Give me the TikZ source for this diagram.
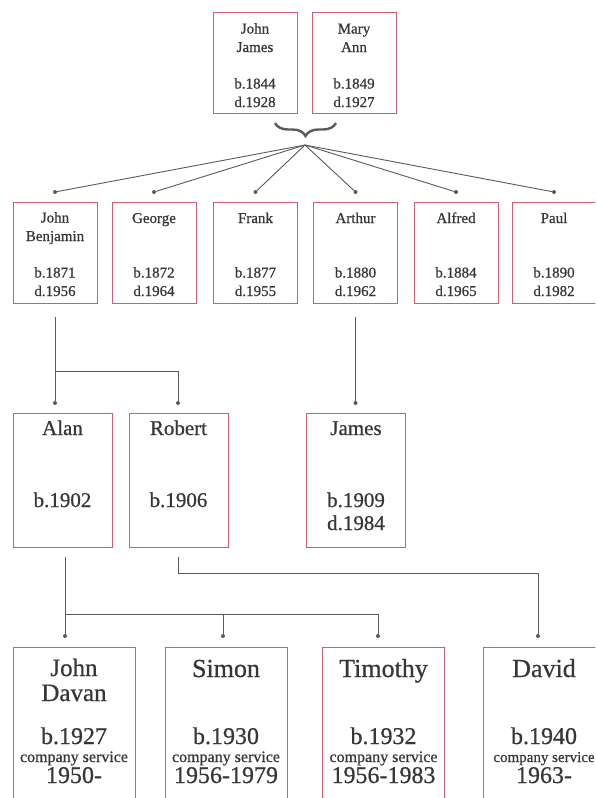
\documentclass[tikz,border=0pt]{standalone}
\usepackage{fontspec}
\setmainfont{Liberation Serif}[UprightFeatures={FakeBold=0.7}]
\usetikzlibrary{decorations.pathreplacing}
\definecolor{boxred}{RGB}{205,95,115}
\definecolor{inkgray}{RGB}{55,55,55}
\definecolor{linegray}{RGB}{90,90,90}

\begin{document}
\begin{tikzpicture}[x=1pt,y=-1pt,
	box/.style={draw=boxred,line width=0.9pt,inner sep=0pt,anchor=north},
	txt/.style={anchor=base,align=center,text=inkgray,inner sep=0pt},
	link/.style={draw=linegray,line width=0.9pt},
	dot/.style={circle,fill=linegray,inner sep=0pt,minimum size=4pt}]
	\useasboundingbox (0,0) rectangle (595,798);
	\clip (0,0) rectangle (595,798);

	% parents (base of a two-line node is its last line)
	\begin{scope}[every node/.append style={minimum width=84pt,minimum height=101pt}]
		\node[box] (jj) at (255,12) {};
		\node[box] (ma) at (354,12) {};
	\end{scope}
	\begin{scope}[every node/.style={txt},font=\fontsize{15}{18.5}\selectfont]
		\node (jj-name) at ([yshift=-40pt]jj.north) {John\\James};
		\node (jj-dates) at ([yshift=-95pt]jj.north) {b.1844\\d.1928};
		\node (ma-name) at ([yshift=-40pt]ma.north) {Mary\\Ann};
		\node (ma-dates) at ([yshift=-95pt]ma.north) {b.1849\\d.1927};
	\end{scope}
	\draw[linegray,line width=2.4pt,decorate,decoration={brace,mirror,amplitude=13pt}] (275,123) -- (336,123);
	\coordinate (fan) at (305,145);

	% children
	\foreach \id/\x/\name/\dy/\born/\died in {jb/55/{John\\Benjamin}/39/1871/1956,
			george/154/George/21/1872/1964, frank/255.5/Frank/21/1877/1955,
			arthur/355.5/Arthur/21/1880/1962, alfred/456/Alfred/21/1884/1965,
			paul/554/Paul/21/1890/1982} {
		\node[box,minimum width=84pt,minimum height=101pt] (\id) at (\x,202) {};
		\node[txt,font=\fontsize{15}{18.5}\selectfont] (\id-name) at ([yshift=-\dy pt]\id.north) {\name};
		\node[txt,font=\fontsize{15}{18.5}\selectfont] (\id-dates) at ([yshift=-94pt]\id.north) {b.\born\\d.\died};
		\node[dot] (\id-dot) at ([yshift=10pt]\id.north) {};
		\draw[link] (fan) -- (\id-dot);
	}

	% grandchildren
	\begin{scope}[every node/.append style={minimum width=99pt,minimum height=134pt}]
		\node[box] (alan) at (62.5,413) {};
		\node[box] (robert) at (178.5,413) {};
		\node[box] (james) at (356,413) {};
	\end{scope}
	\begin{scope}[every node/.style={txt},font=\fontsize{21}{23}\selectfont]
		\node (alan-name) at ([yshift=-22pt]alan.north) {Alan};
		\node (alan-dates) at ([yshift=-94pt]alan.north) {b.1902};
		\node (robert-name) at ([yshift=-22pt]robert.north) {Robert};
		\node (robert-dates) at ([yshift=-94pt]robert.north) {b.1906};
		\node (james-name) at ([yshift=-22pt]james.north) {James};
		\node (james-dates) at ([yshift=-117pt]james.north) {b.1909\\d.1984};
	\end{scope}
	\node[dot] (alan-dot) at (55,403) {};
	\node[dot] (robert-dot) at (178,403) {};
	\node[dot] (james-dot) at (355.5,403) {};
	\coordinate (jb-out) at (55,317);
	\coordinate (jb-split) at (55,371);
	\coordinate (arthur-out) at (355.5,317);
	\draw[link] (jb-out) -- (alan-dot);
	\draw[link] (jb-split) -| (robert-dot);
	\draw[link] (arthur-out) -- (james-dot);

	% great-grandchildren
	\begin{scope}[every node/.append style={minimum width=122pt,minimum height=170pt}]
		\node[box] (jd) at (74,647) {};
		\node[box] (simon) at (226,647) {};
		\node[box] (timothy) at (383.5,647) {};
		\node[box] (david) at (544,647) {};
	\end{scope}
	\begin{scope}[every node/.style={txt},font=\fontsize{24}{23}\selectfont]
		\node[font=\fontsize{25}{25}\selectfont] (jd-name) at ([yshift=-54pt]jd.north) {John\\Davan};
		\node[font=\fontsize{26}{23}\selectfont] (simon-name) at ([yshift=-30pt]simon.north) {Simon};
		\node[font=\fontsize{26}{23}\selectfont] (timothy-name) at ([yshift=-30pt]timothy.north) {Timothy};
		\node[font=\fontsize{26}{23}\selectfont] (david-name) at ([yshift=-30pt]david.north) {David};
		\foreach \id/\born/\years/\fs in {jd/1927/1950-/16, simon/1930/1956-1979/16,
				timothy/1932/1956-1983/16, david/1940/1963-/15} {
			\node (\id-born) at ([yshift=-97pt]\id.north) {b.\born};
			\node[font=\fontsize{\fs}{17}\selectfont] (\id-service) at ([yshift=-115pt]\id.north) {company service};
			\node (\id-years) at ([yshift=-136pt]\id.north) {\years};
		}
	\end{scope}
	\node[dot] (jd-dot) at (65,636) {};
	\node[dot] (simon-dot) at (223,636) {};
	\node[dot] (timothy-dot) at (378,636) {};
	\node[dot] (david-dot) at (538,636) {};
	\coordinate (alan-out) at (65,557);
	\coordinate (alan-split) at (65,614);
	\coordinate (simon-split) at (223,614);
	\coordinate (robert-out) at (178,557);
	\coordinate (robert-turn) at (178,573);
	\draw[link] (alan-out) -- (jd-dot);
	\draw[link] (alan-split) -| (timothy-dot);
	\draw[link] (simon-split) -- (simon-dot);
	\draw[link] (robert-out) -- (robert-turn) -| (david-dot);
\end{tikzpicture}
\end{document}
